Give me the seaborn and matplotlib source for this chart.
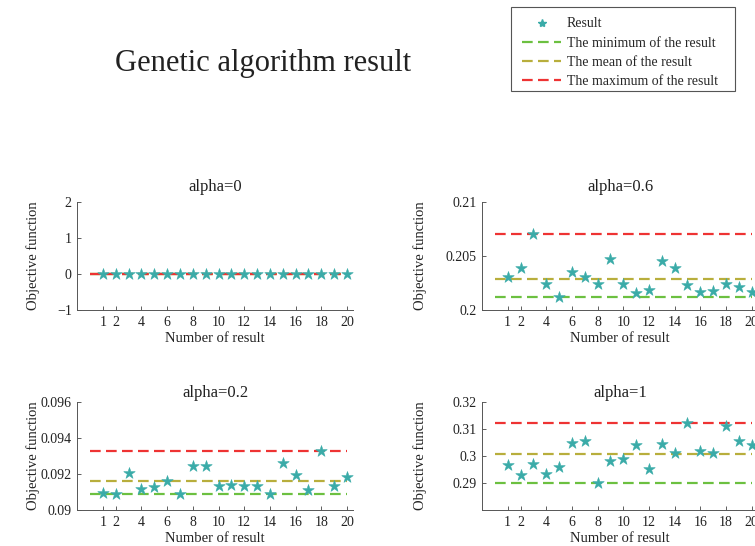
import numpy as np
import pandas as pd
import matplotlib
matplotlib.use("Agg")
import matplotlib.pyplot as plt
from matplotlib.lines import Line2D
from matplotlib.patches import Rectangle
import seaborn as sns

# data
runs = list(range(1, 21))
alpha_0 = [0.0] * 20
alpha_06 = [0.20302, 0.20385, 0.20708, 0.20237, 0.20120, 0.20354, 0.20308, 0.20240, 0.20468, 0.20237,
            0.20160, 0.20185, 0.20455, 0.20391, 0.20231, 0.20163, 0.20178, 0.20243, 0.20209, 0.20166]
alpha_02 = [0.09095, 0.09090, 0.09203, 0.09116, 0.09126, 0.09161, 0.09090, 0.09247, 0.09247, 0.09135,
            0.09138, 0.09135, 0.09135, 0.09090, 0.09260, 0.09196, 0.09109, 0.09327, 0.09135, 0.09181]
alpha_1 = [0.29654, 0.29309, 0.29704, 0.29321, 0.29605, 0.30494, 0.30543, 0.29012, 0.29802, 0.29877,
           0.30395, 0.29506, 0.30444, 0.30123, 0.31210, 0.30198, 0.30123, 0.31111, 0.30568, 0.30407]

panels = [
    ("alpha=0", alpha_0, (-1, 2), [-1, 0, 1, 2], ["\u22121", "0", "1", "2"]),
    ("alpha=0.6", alpha_06, (0.2, 0.21), [0.2, 0.205, 0.21], ["0.2", "0.205", "0.21"]),
    ("alpha=0.2", alpha_02, (0.09, 0.096), [0.09, 0.092, 0.094, 0.096], ["0.09", "0.092", "0.094", "0.096"]),
    ("alpha=1", alpha_1, (0.28, 0.32), [0.29, 0.30, 0.31, 0.32], ["0.29", "0.3", "0.31", "0.32"]),
]
xticks = [1, 2, 4, 6, 8, 10, 12, 14, 16, 18, 20]

TEAL = "#3aaba8"
GREEN = "#6cc040"
OLIVE = "#b8ae3c"
RED = "#ee3333"
DASH = (0, (4.8, 2.4))

sns.set_theme(style="white")
plt.rcParams["font.family"] = ["Liberation Serif", "DejaVu Serif"]
plt.rcParams["axes.unicode_minus"] = True

W, H = 755, 546
fig = plt.figure(figsize=(W / 100, H / 100), dpi=100)

# axes rectangles in pixels: left, top, width, height
rects = [(77.3, 202, 276, 108), (482, 202, 276, 108),
         (77.3, 402, 276, 108), (482, 402, 276, 108)]
title_pads = [8, 8, 3.5, 3.5]
ylabel_x = [-0.135, -0.2, -0.135, -0.2]

for (title, vals, ylim, yt, ytl), (l, t, w, h), tp, ylx in zip(panels, rects, title_pads, ylabel_x):
    ax = fig.add_axes([l / W, 1 - (t + h) / H, w / W, h / H])
    df = pd.DataFrame({"run": runs, "value": vals})
    lo, mean, hi = min(vals), float(np.mean(vals)), max(vals)
    for v, c in [(lo, GREEN), (mean, OLIVE), (hi, RED)]:
        sns.lineplot(x=[0, 20], y=[v, v], color=c, linestyle=DASH, linewidth=1.6, ax=ax)
    sns.scatterplot(data=df, x="run", y="value", marker="*", s=75, color=TEAL,
                    edgecolor=TEAL, linewidth=0.4, ax=ax, zorder=3)
    ax.set_xlim(-1, 20.5)
    ax.set_ylim(*ylim)
    ax.set_xticks(xticks)
    ax.set_xticklabels([str(x) for x in xticks], fontsize=10)
    ax.set_yticks(yt)
    ax.set_yticklabels(ytl, fontsize=10)
    ax.tick_params(direction="in", length=3, width=0.6, color="#444444", pad=4,
                   bottom=True, left=True, labelcolor="#222222")
    for s in ["top", "right"]:
        ax.spines[s].set_visible(False)
    for s in ["left", "bottom"]:
        ax.spines[s].set_color("#555555")
        ax.spines[s].set_linewidth(0.7)
    ax.set_title(title, fontsize=12, pad=tp, color="#222222")
    ax.set_xlabel("Number of result", fontsize=10.5, color="#222222")
    ax.set_ylabel("Objective function", fontsize=10.5, color="#222222")
    ax.xaxis.set_label_coords(0.5, -0.203)
    ax.yaxis.set_label_coords(ylx, 0.5)
    ax.grid(False)

fig.text(263 / W, 1 - 63 / H, "Genetic algorithm result", fontsize=22,
         ha="center", va="center", color="#222222")

handles = [
    Line2D([], [], linestyle="none", marker="*", markersize=6, color=TEAL),
    Line2D([], [], linestyle=DASH, linewidth=1.6, color=GREEN),
    Line2D([], [], linestyle=DASH, linewidth=1.6, color=OLIVE),
    Line2D([], [], linestyle=DASH, linewidth=1.6, color=RED),
]
labels = ["Result", "The minimum of the result", "The mean of the result", "The maximum of the result"]
fig.legend(handles, labels, loc="upper left", bbox_to_anchor=(512 / W, 1 - 7 / H),
           borderaxespad=0, fontsize=10, frameon=False,
           handlelength=2.8, handletextpad=0.4, labelspacing=0.45, borderpad=0.75)
# legend box drawn separately (MATLAB-style box with wide right margin)
fig.patches.append(Rectangle((511 / W, 1 - 91 / H), 224 / W, 84 / H, transform=fig.transFigure,
                             fill=False, edgecolor="#555555", linewidth=0.8))

fig.savefig("out.png", dpi=100)
